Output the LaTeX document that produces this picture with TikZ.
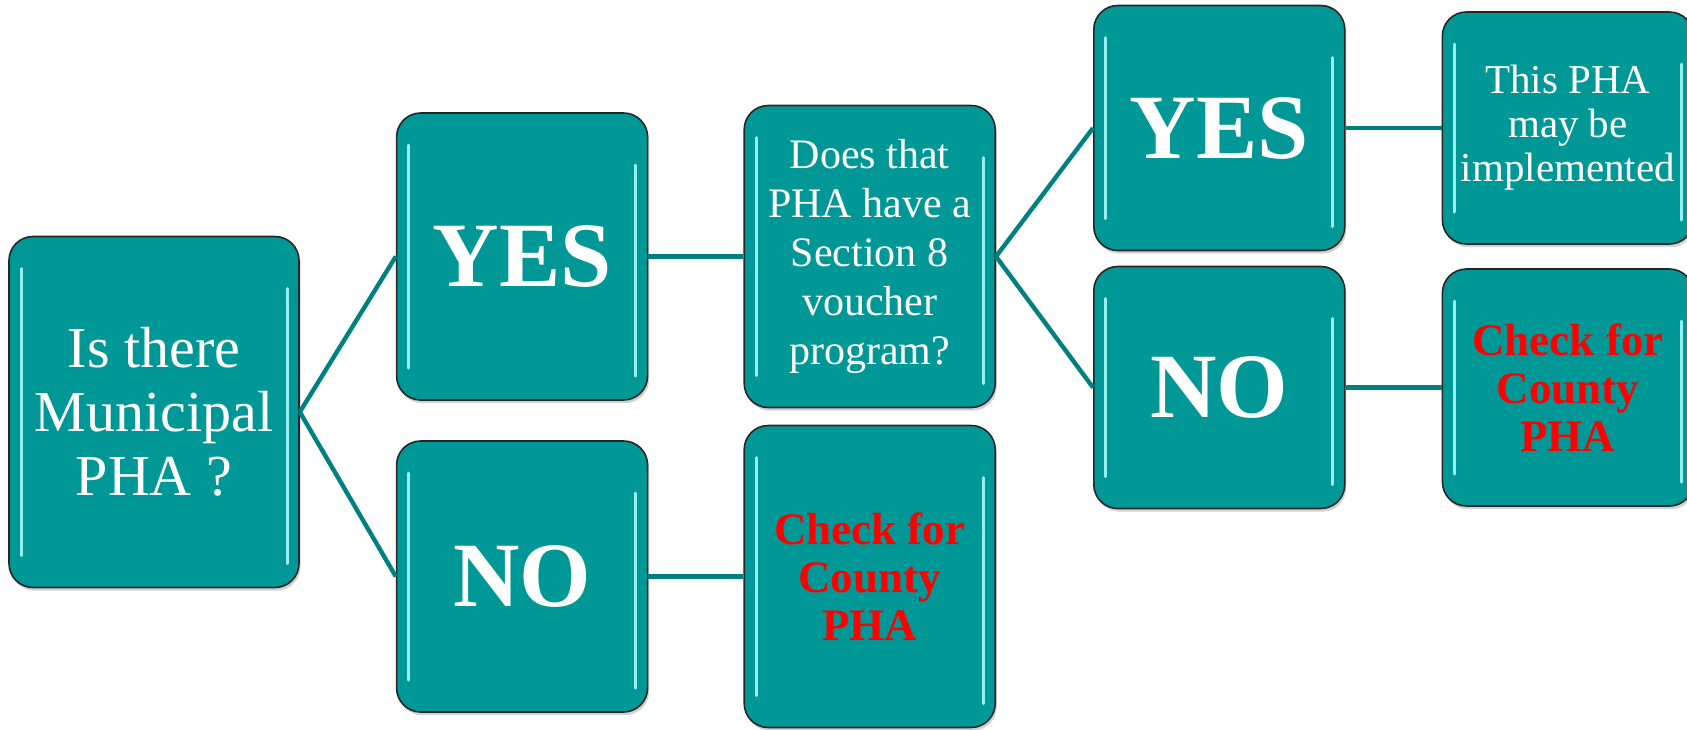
\documentclass[tikz,border=0pt]{standalone}
\usepackage{fontspec}
\setmainfont{Liberation Serif}
\usepackage{tikz}
\usetikzlibrary{positioning, shadows}
\definecolor{phateal}{RGB}{0,152,150}
\definecolor{linkteal}{RGB}{0,128,128}
\definecolor{glint}{RGB}{150,240,240}

\begin{document}
\begin{tikzpicture}[
    tealblk/.style={draw=black!85, line width=0.8pt, rounded corners=12pt,
                    fill=phateal, minimum width=125.5pt, text=white,
                    align=center, inner sep=2pt,
                    drop shadow={shadow xshift=0.8pt, shadow yshift=-1.6pt, opacity=0.35},
                    path picture={
                      \draw[glint, line width=1.5pt, line cap=round]
                        ([xshift=6pt, yshift=-16pt]path picture bounding box.north west)
                        -- ([xshift=6pt, yshift=16pt]path picture bounding box.south west);
                      \draw[glint, line width=1.5pt, line cap=round]
                        ([xshift=-6pt, yshift=-26pt]path picture bounding box.north east)
                        -- ([xshift=-6pt, yshift=12pt]path picture bounding box.south east);
                    }},
    bigtxt/.style={font=\bfseries\fontsize{46}{50}\selectfont},
    asktxt/.style={font=\fontsize{21}{24.5}\selectfont},
    redtxt/.style={text=red, font=\bfseries\fontsize{22.5}{24}\selectfont},
    link/.style={draw=linkteal, line width=2.2pt}
  ]
    \useasboundingbox (0,0) rectangle (843.5pt,-364.5pt);

    \node[tealblk, minimum width=145pt, minimum height=175.5pt,
          font=\fontsize{29}{32}\selectfont] at (77pt,-206pt) (muni)
          {Is there\\Municipal\\PHA ?};
    \node[tealblk, bigtxt, minimum height=143.5pt, right=48pt of muni, yshift=77.75pt] (yes1)
          {YES};
    \node[tealblk, bigtxt, minimum height=135.5pt, right=48pt of muni, yshift=-82.25pt] (no1)
          {NO};
    \node[tealblk, asktxt, minimum height=151pt, right=47.5pt of yes1] (sect8)
          {Does that\\PHA have a\\Section 8\\voucher\\program?};
    \node[tealblk, redtxt, minimum height=151pt, right=47.5pt of no1] (county1)
          {Check for\\County\\PHA};
    \node[tealblk, bigtxt, minimum height=122.5pt, right=48.5pt of sect8, yshift=64.25pt] (yes2)
          {YES};
    \node[tealblk, bigtxt, minimum height=121pt, right=48.5pt of sect8, yshift=-65.5pt] (no2)
          {NO};
    \node[tealblk, asktxt, font=\fontsize{20.5}{22}\selectfont, minimum height=116pt,
          right=48pt of yes2] (impl)
          {This PHA\\may be\\implemented};
    \node[tealblk, redtxt, minimum height=118.5pt, right=48pt of no2] (county2)
          {Check for\\County\\PHA};

    \draw[link] (muni.east)  -- (yes1.west);
    \draw[link] (muni.east)  -- (no1.west);
    \draw[link] (yes1)       -- (sect8);
    \draw[link] (no1)        -- (county1);
    \draw[link] (sect8.east) -- (yes2.west);
    \draw[link] (sect8.east) -- (no2.west);
    \draw[link] (yes2)       -- (impl);
    \draw[link] (no2)        -- (county2);
  \end{tikzpicture}
\end{document}
